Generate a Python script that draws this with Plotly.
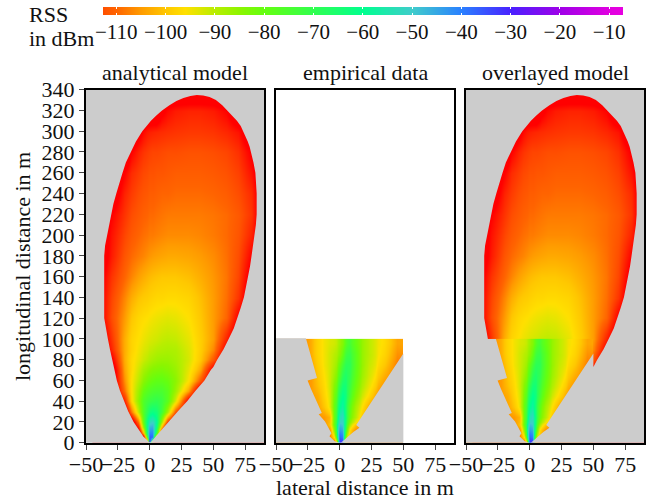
import plotly.graph_objects as go

FONT = "Liberation Serif"
GRAY = "#cccccc"

# colour ramp
scale_db = [-122, -112.7, -110, -105, -100, -96, -90, -85, -80, -70, -60, -50, -40, -30, -20, -10, -7]
scale_rgb = ["#ff0000", "#ff5000", "#ff6400", "#ff9c00", "#ffc800", "#ffe000", "#b8ee00", "#8cf500",
             "#64ff10", "#30ff50", "#00ff90", "#40cccc", "#2a80ff", "#4a20ff", "#a000e8", "#e000e0", "#e800e0"]
legend_ticks = [-110, -100, -90, -80, -70, -60, -50, -40, -30, -20, -10]
legend_db = list(range(-113, -6))

lateral_ticks = [-50, -25, 0, 25, 50, 75]
longitudinal_ticks = [0, 20, 40, 60, 80, 100, 120, 140, 160, 180, 200, 220, 240, 260, 280, 300, 320, 340]

# analytical model: RSS in dBm read at these positions
model_x = [-40, -30, -20, -14, -9, -5, -2, 0, 2, 5, 9, 14, 20, 30, 40, 50, 60, 70, 80, 90]
model_y = [0, 3, 6, 10, 15, 20, 30, 40, 50, 60, 70, 80, 90, 100, 120, 140, 160, 180, 200, 220, 240, 260, 280, 300, 320, 340]
model_rss = [
    [-130, -130, -130, -130, -130, -130, -130, -28, -130, -130, -130, -130, -130, -130, -130, -130, -130, -130, -130, -130],
    [-130, -130, -130, -130, -130, -130, -95, -32, -60, -130, -130, -130, -130, -130, -130, -130, -130, -130, -130, -130],
    [-130, -130, -130, -130, -130, -125, -70, -36, -38, -105, -130, -130, -130, -130, -130, -130, -130, -130, -130, -130],
    [-130, -130, -130, -130, -130, -100, -58, -41, -41, -72, -122, -130, -130, -130, -130, -130, -130, -130, -130, -130],
    [-130, -130, -130, -130, -118, -84, -58, -47, -46, -62, -100, -130, -130, -130, -130, -130, -130, -130, -130, -130],
    [-130, -130, -130, -130, -108, -78, -60, -53, -51, -59, -86, -115, -130, -130, -130, -130, -130, -130, -130, -130],
    [-130, -130, -130, -108, -90, -76, -68, -64, -62, -64, -73, -88, -112, -130, -130, -130, -130, -130, -130, -130],
    [-130, -130, -118, -97, -85, -76, -73, -72, -71, -70, -72, -78, -93, -124, -130, -130, -130, -130, -130, -130],
    [-130, -130, -109, -96, -87, -80, -77.5, -76.5, -75.5, -75, -75, -78, -87, -104, -130, -130, -130, -130, -130, -130],
    [-130, -130, -106, -96, -90, -84.5, -82, -81, -80, -79, -79, -80.5, -85, -96, -112, -130, -130, -130, -130, -130],
    [-130, -130, -104, -97, -92, -88, -86, -85, -84, -83.5, -83, -84, -86.5, -94, -104, -125, -130, -130, -130, -130],
    [-130, -124, -103, -97, -94, -91.5, -90, -89, -88, -87, -86.5, -86.5, -88, -92.5, -100, -112, -130, -130, -130, -130],
    [-130, -118, -103, -98, -95, -93, -92, -91, -90.5, -89.5, -89, -88.5, -89, -93, -99, -107, -124, -130, -130, -130],
    [-130, -116, -103, -98, -96, -94.5, -93.5, -93, -92.5, -92, -91, -90.5, -91, -94, -99, -105, -118, -130, -130, -130],
    [-125, -113, -105, -100, -97.5, -96.5, -96, -95.5, -95, -94.5, -94, -93.5, -94, -96, -100, -105, -110, -123, -130, -130],
    [-125, -114, -107, -103, -100.5, -99.5, -99, -98.5, -98, -97.5, -97.5, -97, -97, -98, -101, -105, -109, -116, -130, -130],
    [-126, -116, -110, -107, -104.5, -103, -102, -101.5, -101, -100.5, -100, -100, -100, -101, -103, -105.5, -108.5, -114, -126, -130],
    [-130, -119, -112, -109.5, -108, -107, -106, -105.5, -105, -104.5, -104, -103.5, -103.5, -104, -105, -106.5, -109, -113, -122, -130],
    [-130, -120, -114, -111.5, -110, -109, -108.5, -108, -108, -107.5, -107, -106.5, -106.5, -106.5, -107, -108, -109.5, -112, -118, -130],
    [-130, -122, -116, -113, -111.5, -110.5, -110, -109.5, -109.5, -109, -108.5, -108, -108, -108, -108, -108.5, -109.5, -111.5, -116, -130],
    [-130, -128, -118, -115, -113, -112, -111.5, -111, -111, -110.5, -110, -110, -109.5, -109.5, -109.5, -110, -111, -113, -117, -130],
    [-130, -130, -122, -117, -115, -113.5, -113, -112.5, -112.5, -112, -112, -111.5, -111, -111, -111, -111.5, -112.5, -114.5, -120, -130],
    [-130, -130, -130, -122, -118, -116, -115, -114.5, -114, -114, -113.5, -113, -113, -112.5, -112.5, -113, -114, -116.5, -123, -130],
    [-130, -130, -130, -130, -125, -121, -119, -118.5, -118, -117.5, -117, -116.5, -116, -115.5, -115.5, -116, -117.5, -120, -130, -130],
    [-130, -130, -130, -130, -130, -130, -130, -130, -130, -130, -124, -121, -119, -118, -118, -119, -122, -130, -130, -130],
    [-130, -130, -130, -130, -130, -130, -130, -130, -130, -130, -130, -130, -130, -130, -130, -130, -130, -130, -130, -130],
]
# visible outline of the model lobe
model_left_y = [0, 3, 6, 10, 15, 20, 30, 40, 50, 60, 70, 80, 90, 100, 110, 120, 140, 160, 180, 190, 200, 210, 220, 230, 240, 250, 260, 270, 280, 290, 300, 305, 310, 315, 320, 325, 329, 332, 334, 335]
model_left_x = [0, -2.5, -5, -7.2, -10, -12.6, -16.8, -20.3, -23.3, -25.8, -27.8, -29.6, -31.2, -32.8, -34.4, -35.7, -35.7, -35.7, -35.7, -35, -33.3, -32, -30.4, -28.5, -26.2, -24, -21.3, -18.7, -15, -10.8, -5.8, -2.5, 1, 5, 9.7, 15.5, 21, 26.5, 32, 37]
model_right_y = [334.5, 333, 330, 325, 320, 315, 310, 305, 300, 295, 290, 285, 280, 270, 260, 250, 240, 230, 220, 210, 200, 190, 180, 170, 160, 150, 140, 130, 120, 110, 100, 90, 80, 73, 70, 60, 50, 40, 30, 20, 9, 0]
model_right_x = [42, 47, 52, 57, 61, 65, 68.5, 71.5, 73.5, 75.5, 77, 78.5, 79.7, 81.5, 83, 83.7, 84, 84, 84, 83.4, 82.4, 81.4, 80, 78.8, 77.4, 75.8, 74, 71.5, 69, 66, 62, 58, 53, 50, 48, 43, 36, 29.4, 22, 15, 7, 0.5]

# empirical data: RSS in dBm, cell edges and values
emp_x_edges = [-50, -40, -30, -25, -20, -15, -10, -6, -3, -1, 1, 3, 6, 10, 15, 20, 25, 30, 40, 50]
emp_y_edges = [0, 3, 6, 10, 15, 20, 30, 40, 50, 60, 70, 80, 90, 100]
emp_rss = [
    [-108, -108, -108, -108, -108, -108, -108, -108, -85, -32, -34, -100, -108, -108, -108, -108, -108, -108, -108],
    [-108, -108, -108, -108, -108, -108, -108, -100, -70, -35, -38, -90, -106, -108, -108, -108, -108, -108, -108],
    [-108, -108, -108, -108, -108, -108, -108, -92, -60, -39, -42, -78, -100, -108, -108, -108, -108, -108, -108],
    [-108, -108, -108, -108, -106, -106, -106, -85, -58, -44, -46, -70, -96, -106, -108, -108, -108, -108, -108],
    [-108, -108, -108, -108, -106, -106, -100, -80, -60, -48, -50, -66, -88, -100, -106, -108, -108, -108, -108],
    [-108, -108, -108, -106, -106, -105, -102, -80, -66, -54, -52, -64, -80, -90, -100, -106, -108, -108, -108],
    [-108, -108, -106, -105, -104, -100, -94, -80, -70, -60, -57, -65, -78, -88, -96, -103, -108, -108, -108],
    [-108, -108, -106, -105, -103, -98, -93, -82, -74, -65, -60, -63, -74, -84, -92, -97, -103, -108, -108],
    [-108, -108, -106, -105, -101, -97, -92, -84, -78, -70, -64, -64, -72, -81, -89, -94, -99, -106, -108],
    [-108, -108, -106, -105, -100, -96, -92, -87, -82, -76, -69, -66, -70, -79, -87, -92, -96, -103, -108],
    [-108, -108, -106, -104, -99, -95, -92, -89, -85, -80, -74, -69, -69, -78, -86, -91, -94, -100, -108],
    [-108, -108, -106, -103, -98, -95, -92, -90, -88, -85, -80, -73, -71, -78, -86, -90, -93, -98, -106],
    [-108, -108, -106, -103, -98, -95, -93, -92, -90, -87, -84, -78, -74, -80, -86, -90, -93, -97, -104],
]
# visible outline of the measured fan
emp_left_x = [0, -4, -8, -6.5, -11.5, -16.5, -14, -22.6, -25.2, -17.8, -21.8, -26.5]
emp_left_y = [0, 1.5, 6.3, 9, 20.5, 27.3, 28.5, 52, 60, 62.3, 79.3, 100]
emp_right_x = [50, 13, 15.5, 11, 1]
emp_right_y = [86, 17, 14.5, 10.5, 0]

X_MIN, X_MAX, Y_MAX, EMP_Y = -50, 90, 340, 100
W, H = 657, 502
colorscale = [[(d - scale_db[0]) / (scale_db[-1] - scale_db[0]), c] for d, c in zip(scale_db, scale_rgb)]
zr = dict(zmin=scale_db[0], zmax=scale_db[-1], colorscale=colorscale, showscale=False, zsmooth="best", hoverinfo="skip")
fig = go.Figure()


def mask(xs, ys, ax):
    fig.add_trace(go.Scatter(x=xs, y=ys, mode="lines", fill="toself", fillcolor=GRAY, line=dict(width=0),
                             hoverinfo="skip", showlegend=False, xaxis=f"x{ax}", yaxis=f"y{ax}"))


# panel 1
fig.add_trace(go.Heatmap(x=model_x, y=model_y, z=model_rss, xaxis="x", yaxis="y", **zr))
mask([X_MIN - 5] + model_left_x + model_right_x + [X_MAX + 5, X_MAX + 5, X_MIN - 5],
     [-5] + model_left_y + model_right_y + [-5, Y_MAX + 5, Y_MAX + 5], "")

# panel 2
fig.add_trace(go.Heatmap(x=emp_x_edges, y=emp_y_edges, z=emp_rss, xaxis="x2", yaxis="y2", **zr))
mask([X_MIN - 5] + emp_left_x + [emp_left_x[-1], X_MIN - 5, X_MIN - 5, None, emp_right_x[0]] + emp_right_x + [emp_right_x[0]],
     [-5] + emp_left_y + [EMP_Y + 0.5, EMP_Y + 0.5, -5, None, emp_right_y[0]] + emp_right_y + [-5], "2")

# panel 3: measured data laid over the model
fig.add_trace(go.Heatmap(x=model_x, y=model_y, z=model_rss, xaxis="x3", yaxis="y3", **zr))
fig.add_trace(go.Heatmap(x=emp_x_edges, y=emp_y_edges, z=emp_rss, xaxis="x3", yaxis="y3", **zr))
upper = [i for i, v in enumerate(model_left_y) if v >= EMP_Y]
lower = [i for i, v in enumerate(model_right_y) if v >= 73]
mask([X_MIN - 5] + emp_left_x + [model_left_x[i] for i in upper] + [model_right_x[i] for i in lower]
     + emp_right_x + [X_MAX + 5, X_MAX + 5, X_MIN - 5],
     [-5] + emp_left_y + [model_left_y[i] for i in upper] + [model_right_y[i] for i in lower]
     + emp_right_y + [-5, Y_MAX + 5, Y_MAX + 5], "3")

# legend bar
fig.add_trace(go.Heatmap(x=legend_db, y=[0, 1], z=[legend_db, legend_db], xaxis="x4", yaxis="y4", **zr))

top, bottom = 89.7, 442.7
ydom = [(H - bottom) / H, (H - top) / H]
frame = dict(showline=True, linecolor="black", linewidth=2, mirror=True, showgrid=False, zeroline=False,
             layer="above traces", automargin=False)
tickstyle = dict(ticks="outside", ticklen=5, tickwidth=1, tickcolor="#444444",
                 tickfont=dict(family=FONT, size=22, color="#111111"))


def xaxis(a, b, anchor):
    return dict(domain=[a / W, b / W], range=[X_MIN, X_MAX], anchor=anchor, tickmode="array",
                tickvals=lateral_ticks, tickangle=0, ticklabelstandoff=-4, **frame, **tickstyle)


fig.update_layout(
    width=W, height=H, margin=dict(l=0, r=0, t=0, b=0), paper_bgcolor="white", plot_bgcolor="white",
    font=dict(family=FONT, size=22, color="#111111"), showlegend=False,
    xaxis=xaxis(86, 264.3, "y"), xaxis2=xaxis(276, 454.3, "y2"), xaxis3=xaxis(466, 644.3, "y3"),
    yaxis=dict(domain=ydom, range=[0, Y_MAX], anchor="x", tickmode="array", tickvals=longitudinal_ticks, **frame, **tickstyle),
    yaxis2=dict(domain=ydom, range=[0, Y_MAX], anchor="x2", showticklabels=False, ticks="", **frame),
    yaxis3=dict(domain=ydom, range=[0, Y_MAX], anchor="x3", showticklabels=False, ticks="", **frame),
    xaxis4=dict(domain=[103 / W, 623 / W], range=[-112.7, -7.2], anchor="y4", tickmode="array", tickvals=legend_ticks,
                ticks="inside", ticklen=2, tickwidth=1, tickcolor="white", mirror="allticks", showline=False,
                showgrid=False, zeroline=False, tickangle=0, ticklabelstandoff=2, layer="above traces", automargin=False,
                tickfont=dict(family=FONT, size=21, color="#111111")),
    yaxis4=dict(domain=[(H - 15) / H, (H - 7) / H], range=[0, 1], anchor="x4", showticklabels=False, ticks="",
                showgrid=False, zeroline=False, automargin=False),
)


def label(text, px, py, angle=0, anchor="center"):
    fig.add_annotation(text=text, x=px / W, y=1 - py / H, xref="paper", yref="paper", showarrow=False,
                       textangle=angle, xanchor=anchor, yanchor="middle", font=dict(family=FONT, size=22, color="#111111"))


label("RSS", 27, 15, anchor="left")
label("in dBm", 27, 38, anchor="left")
label("analytical model", 175, 73)
label("empirical data", 365, 73)
label("overlayed model", 555, 73)
label("longitudinal distance in m", 22, 267, angle=-90)
label("lateral distance in m", 365, 487)

fig.write_html("out.html", post_script="document.body.style.margin='0';", config=dict(displayModeBar=False))
